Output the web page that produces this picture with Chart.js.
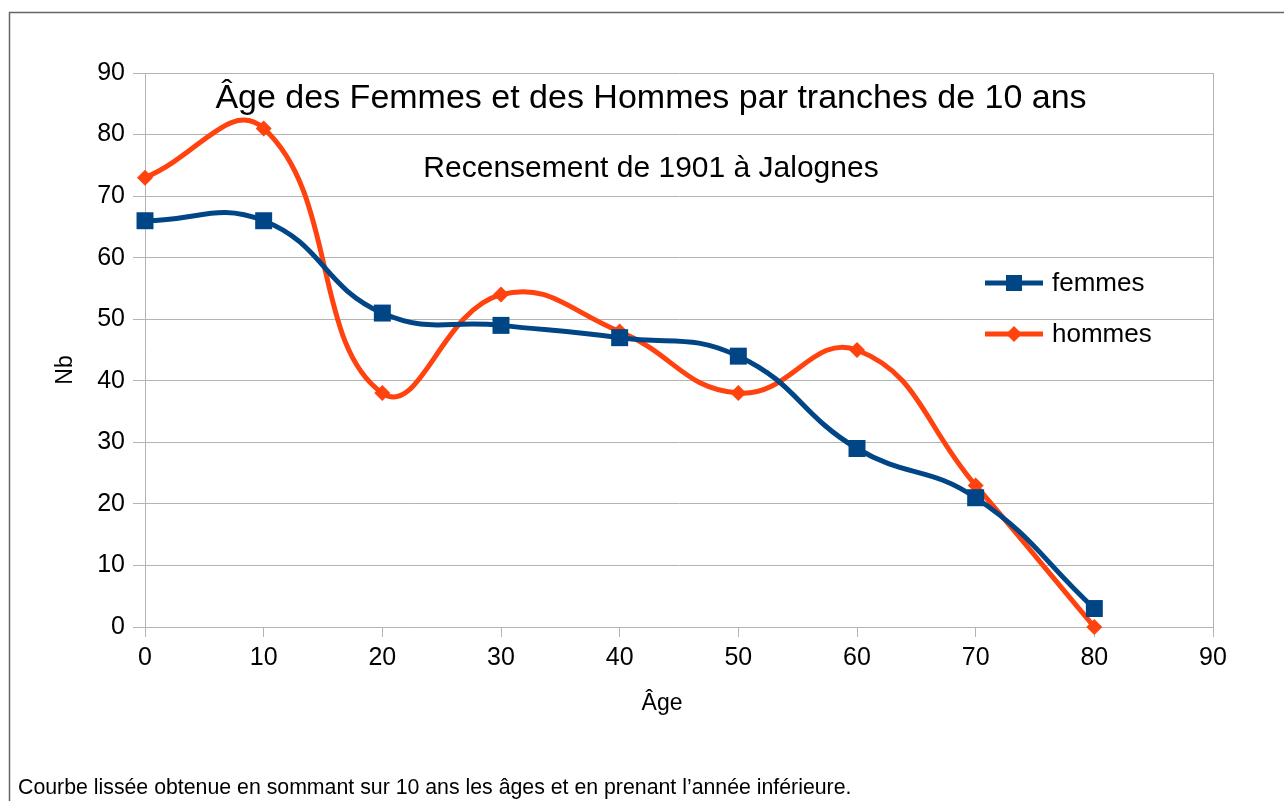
<!DOCTYPE html>
<html lang="fr">
<head>
<meta charset="utf-8">
<title>Âge des Femmes et des Hommes</title>
<script src="https://cdn.jsdelivr.net/npm/chart.js@4/dist/chart.umd.min.js"></script>
<style>
	html, body { margin: 0; padding: 0; background: #fff; }
	#wrap { width: 1284px; height: 801px; }
</style>
</head>
<body>
<div id="wrap"><canvas id="ageChart" width="1284" height="801"></canvas></div>
<script>
// Données
const ages = [0, 10, 20, 30, 40, 50, 60, 70, 80];
const femmes = [66, 66, 51, 49, 47, 44, 29, 21, 3];
const hommes = [73, 81, 38, 54, 48, 38, 45, 23, 0];
const ticksX = [0, 10, 20, 30, 40, 50, 60, 70, 80, 90];
const ticksY = [0, 10, 20, 30, 40, 50, 60, 70, 80, 90];

const BLEU = "#004586";
const ORANGE = "#ff420e";
const GRIS = "#b3b3b3";
const POLICE = "'Liberation Sans', Arial, sans-serif";

function points(serie) {
	return ages.map((a, i) => ({ x: a, y: serie[i] }));
}

// Titre, sous-titre, légende, titres d'axes et note : dessinés par-dessus
const decor = {
	id: "decor",
	afterDraw(chart) {
		const ctx = chart.ctx;
		ctx.save();

		// cadre (haut et gauche)
		ctx.strokeStyle = "#666";
		ctx.lineWidth = 1.5;
		ctx.beginPath();
		ctx.moveTo(9.5, 801);
		ctx.lineTo(9.5, 12.5);
		ctx.lineTo(1284, 12.5);
		ctx.stroke();

		ctx.fillStyle = "#000";
		ctx.textAlign = "center";
		ctx.textBaseline = "middle";
		ctx.font = "34px " + POLICE;
		ctx.fillText("Âge des Femmes et des Hommes par tranches de 10 ans", 651, 99);
		ctx.font = "30px " + POLICE;
		ctx.fillText("Recensement de 1901 à Jalognes", 651, 169);

		// titres d'axes
		ctx.font = "23px " + POLICE;
		ctx.fillText("Âge", 662, 704);
		ctx.save();
		ctx.translate(66, 370);
		ctx.rotate(-Math.PI / 2);
		ctx.fillText("Nb", 0, 0);
		ctx.restore();

		// légende
		chart.data.datasets.forEach((ds, i) => {
			const y = 283 + i * 51;
			ctx.strokeStyle = ds.borderColor;
			ctx.lineWidth = ds.borderWidth;
			ctx.beginPath();
			ctx.moveTo(985, y);
			ctx.lineTo(1043, y);
			ctx.stroke();
			ctx.fillStyle = ds.borderColor;
			ctx.beginPath();
			if (ds.pointStyle === "rect") {
				ctx.rect(1006, y - 8, 16, 16);
			} else {
				ctx.moveTo(1014, y - 8);
				ctx.lineTo(1022, y);
				ctx.lineTo(1014, y + 8);
				ctx.lineTo(1006, y);
				ctx.closePath();
			}
			ctx.fill();
			ctx.fillStyle = "#000";
			ctx.textAlign = "left";
			ctx.font = "26px " + POLICE;
			ctx.fillText(ds.label, 1052, y + 1);
		});

		// note de bas de page
		ctx.textAlign = "left";
		ctx.font = "21.3px " + POLICE;
		ctx.fillText("Courbe lissée obtenue en sommant sur 10 ans les âges et en prenant l’année inférieure.", 18, 788);
		ctx.restore();
	}
};

const policeTicks = { family: POLICE, size: 25 };

new Chart(document.getElementById("ageChart"), {
	type: "line",
	data: {
		datasets: [
			{
				label: "femmes",
				data: points(femmes),
				borderColor: BLEU,
				backgroundColor: BLEU,
				borderWidth: 5,
				tension: 0.45,
				pointStyle: "rect",
				pointRadius: 12,
				pointBorderWidth: 0,
				clip: false
			},
			{
				label: "hommes",
				data: points(hommes),
				borderColor: ORANGE,
				backgroundColor: ORANGE,
				borderWidth: 5,
				tension: 0.45,
				pointStyle: "rectRot",
				pointRadius: 8,
				pointBorderWidth: 0,
				clip: false
			}
		]
	},
	options: {
		responsive: false,
		animation: false,
		events: [],
		layout: { padding: { top: 73, right: 71, left: 0, bottom: 0 } },
		scales: {
			x: {
				type: "linear",
				min: 0,
				max: 90,
				border: { color: GRIS, width: 1 },
				grid: {
					// pas de quadrillage vertical, sauf le bord droit
					color: (c) => (c.tick && c.tick.value === 90 ? GRIS : "rgba(0,0,0,0)"),
					tickColor: GRIS,
					tickLength: 10
				},
				ticks: { stepSize: 10, color: "#000", font: policeTicks, padding: 6, maxRotation: 0 },
				afterBuildTicks(scale) {
					scale.ticks = ticksX.map((v) => ({ value: v }));
				},
				afterFit(scale) {
					scale.height = 174;
				}
			},
			y: {
				type: "linear",
				min: 0,
				max: 90,
				border: { color: GRIS, width: 1 },
				grid: { color: GRIS, tickColor: GRIS, tickLength: 12 },
				ticks: { stepSize: 10, color: "#000", font: policeTicks, padding: 8 },
				afterBuildTicks(scale) {
					scale.ticks = ticksY.map((v) => ({ value: v }));
				},
				afterFit(scale) {
					scale.width = 145;
				}
			}
		},
		plugins: {
			legend: { display: false },
			title: { display: false },
			tooltip: { enabled: false }
		}
	},
	plugins: [decor]
});
</script>
</body>
</html>
